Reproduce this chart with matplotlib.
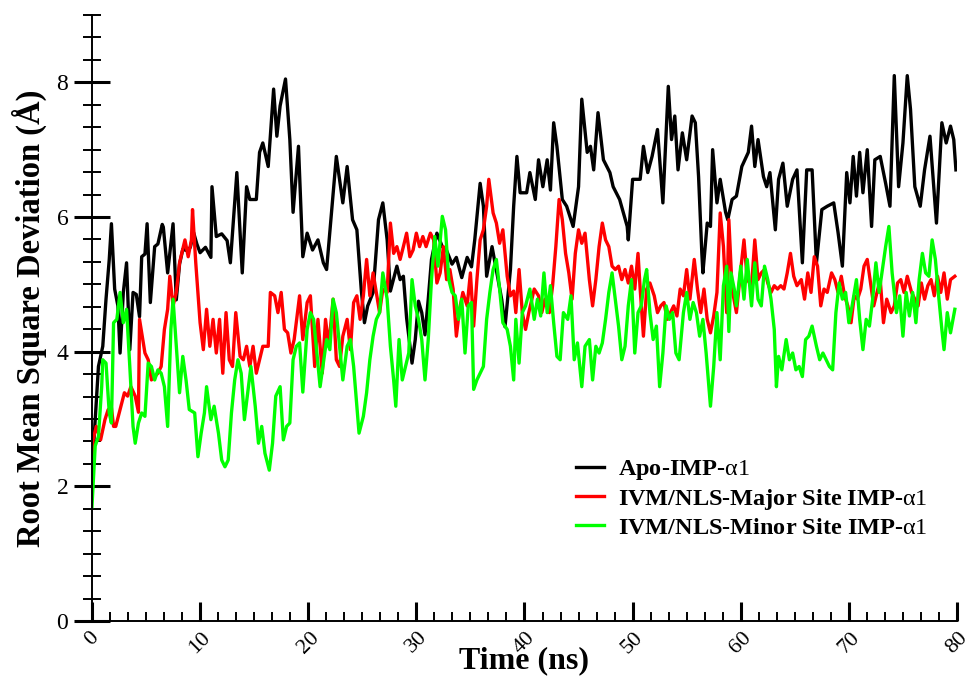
import matplotlib
matplotlib.use("Agg")
import matplotlib.pyplot as plt
from matplotlib.ticker import MultipleLocator, AutoMinorLocator

plt.rcParams['font.family'] = ['Liberation Serif', 'DejaVu Serif']
plt.rcParams['mathtext.fontset'] = 'custom'
plt.rcParams['mathtext.rm'] = 'Liberation Serif'
plt.rcParams['mathtext.it'] = 'Liberation Serif:italic'

# Apo-IMP-alpha1 (black)
apo_t = [0, 0.3, 0.6, 1.0, 1.3, 1.6, 1.8, 2.1, 2.4, 2.6, 2.9, 3.2, 3.5, 3.8, 4.1, 4.4, 4.6, 4.9, 5.1, 5.4,
         5.8, 6.1, 6.5, 6.6, 7.0, 7.5, 7.8, 8.1, 8.4, 8.8, 9.1, 9.4, 9.7, 10.0, 10.5, 11.0, 11.1, 11.5, 12.0, 12.5,
         12.8, 13.4, 13.9, 14.3, 14.6, 15.2, 15.5, 15.8, 16.3, 16.8, 17.1, 17.4, 17.9, 18.3, 18.6, 19.1, 19.5, 19.9, 20.4, 20.9,
         21.4, 21.7, 22.2, 22.6, 23.2, 23.6, 24.1, 24.5, 24.9, 25.2, 25.5, 26.0, 26.5, 26.9, 27.3, 27.6, 28.2, 28.5, 28.8, 29.1,
         29.6, 29.9, 30.2, 30.5, 30.8, 31.1, 31.4, 31.9, 32.4, 32.8, 33.3, 33.7, 34.2, 34.7, 35.1, 35.4, 35.9, 36.2, 36.5, 37.0,
         37.5, 37.9, 38.2, 38.7, 39.0, 39.3, 39.6, 40.2, 40.5, 41.0, 41.3, 41.7, 42.1, 42.4, 42.7, 43.0, 43.5, 43.9, 44.5, 45.0,
         45.3, 45.8, 46.1, 46.4, 46.8, 47.3, 47.9, 48.2, 48.8, 49.5, 49.6, 50.0, 50.7, 51.0, 51.4, 51.8, 52.3, 52.8, 53.3, 53.6,
         53.9, 54.2, 54.6, 55.0, 55.5, 55.8, 56.1, 56.4, 56.5, 56.9, 57.2, 57.4, 57.8, 58.1, 58.6, 58.8, 59.2, 59.6, 60.1, 60.7,
         61.0, 61.3, 61.6, 62.1, 62.4, 62.7, 63.2, 63.5, 63.9, 64.3, 64.8, 65.2, 65.7, 66.1, 66.6, 67.0, 67.5, 68.0, 68.6, 69.0,
         69.4, 69.8, 70.1, 70.4, 70.7, 71.0, 71.3, 71.7, 72.1, 72.4, 72.9, 73.4, 73.8, 74.2, 74.6, 75.0, 75.4, 75.7, 76.1, 76.6,
         77.0, 77.5, 78.1, 78.6, 79.0, 79.4, 79.7, 79.9]
apo_v = [2.2, 2.99, 3.78, 4.08, 4.78, 5.37, 5.9, 4.93, 4.68, 3.98, 4.88, 5.32, 4.03, 4.88, 4.85, 4.52, 5.41, 5.45, 5.9, 4.73,
         5.56, 5.6, 5.89, 5.85, 5.17, 5.9, 4.77, 5.3, 5.52, 5.5, 5.55, 5.77, 5.6, 5.47, 5.55, 5.4, 6.45, 5.71, 5.75, 5.65,
         5.32, 6.66, 5.17, 6.45, 6.26, 6.26, 6.96, 7.1, 6.75, 7.9, 7.2, 7.65, 8.05, 7.15, 6.07, 7.05, 5.41, 5.76, 5.51, 5.66,
         5.32, 5.22, 6.16, 6.9, 6.21, 6.75, 5.96, 5.81, 4.93, 4.43, 4.68, 4.88, 5.96, 6.21, 5.66, 4.9, 5.27, 5.07, 5.12, 4.5,
         3.83, 4.18, 4.75, 4.58, 4.25, 4.78, 5.37, 5.76, 5.56, 5.5, 5.3, 5.4, 5.1, 5.4, 5.26, 5.66, 6.5, 6.16, 5.12, 5.56,
         5.12, 4.77, 4.37, 5.22, 6.16, 6.9, 6.36, 6.36, 6.66, 6.26, 6.85, 6.45, 6.85, 6.4, 7.4, 7.05, 6.26, 6.16, 5.86, 6.45,
         7.75, 6.96, 7.05, 6.7, 7.55, 6.85, 6.66, 6.45, 6.26, 5.86, 5.66, 6.56, 6.56, 7.05, 6.66, 6.9, 7.3, 6.21, 7.94, 7.15,
         7.5, 6.7, 7.25, 6.85, 7.5, 7.4, 6.6, 5.47, 5.17, 5.91, 5.86, 7.0, 6.21, 6.56, 6.07, 5.96, 6.26, 6.31, 6.75, 6.96,
         7.35, 6.75, 7.15, 6.6, 6.45, 6.66, 5.81, 6.56, 6.8, 6.16, 6.56, 6.7, 5.32, 6.7, 6.7, 5.32, 6.11, 6.16, 6.21, 5.77,
         5.27, 6.66, 6.21, 6.9, 6.31, 6.96, 6.36, 7.0, 5.86, 6.85, 6.9, 6.5, 6.16, 8.1, 6.45, 7.1, 8.1, 7.6, 6.45, 6.16,
         6.7, 7.2, 5.91, 7.4, 7.1, 7.35, 7.15, 6.7]

# IVM/NLS-Major Site IMP-alpha1 (red)
major_t = [0.0, 0.1, 0.4, 0.8, 1.2, 1.5, 1.8, 2.0, 2.2, 2.6, 3.0, 3.3, 3.6, 4.0, 4.3, 4.4, 4.9, 5.2, 5.5, 5.8,
           6.1, 6.4, 6.7, 7.0, 7.2, 7.5, 7.8, 8.1, 8.6, 8.9, 9.2, 9.3, 9.6, 10.0, 10.3, 10.6, 10.9, 11.2, 11.5, 11.8,
           12.1, 12.4, 12.7, 13.0, 13.3, 13.7, 14.0, 14.3, 14.6, 14.9, 15.2, 15.5, 15.8, 16.3, 16.5, 16.9, 17.2, 17.5, 17.8, 18.1,
           18.4, 18.7, 19.2, 19.5, 19.9, 20.2, 20.6, 20.9, 21.3, 21.6, 21.9, 22.3, 22.6, 22.9, 23.2, 23.6, 23.9, 24.2, 24.5, 24.8,
           25.1, 25.4, 25.7, 26.0, 26.3, 26.6, 26.9, 27.3, 27.6, 27.9, 28.2, 28.5, 28.8, 29.1, 29.4, 29.7, 30.0, 30.3, 30.6, 30.9,
           31.3, 31.6, 31.9, 32.2, 32.5, 32.8, 33.1, 33.4, 33.7, 34.0, 34.3, 34.7, 35.0, 35.3, 35.6, 35.9, 36.2, 36.5, 36.7, 37.1,
           37.4, 37.7, 38.0, 38.4, 38.7, 39.0, 39.2, 39.5, 39.8, 40.1, 40.4, 40.9, 41.3, 41.6, 41.9, 42.3, 42.6, 42.9, 43.2, 43.5,
           43.8, 44.1, 44.4, 44.7, 45.0, 45.3, 45.6, 46.0, 46.3, 46.6, 46.9, 47.2, 47.5, 47.8, 48.1, 48.4, 48.7, 49.0, 49.3, 49.6,
           49.9, 50.2, 50.5, 50.7, 51.0, 51.3, 51.6, 52.0, 52.3, 52.6, 52.9, 53.2, 53.5, 53.8, 54.1, 54.4, 54.7, 55.0, 55.3, 55.7,
           56.0, 56.3, 56.6, 56.9, 57.2, 57.5, 57.8, 58.1, 58.4, 58.7, 58.9, 59.2, 59.6, 60.0, 60.3, 60.6, 61.0, 61.3, 61.6, 61.9,
           62.2, 62.5, 62.8, 63.1, 63.4, 63.7, 64.0, 64.3, 64.6, 64.9, 65.2, 65.6, 65.9, 66.2, 66.5, 66.8, 67.1, 67.4, 67.7, 68.0,
           68.4, 68.7, 69.0, 69.3, 69.6, 69.9, 70.2, 70.5, 70.8, 71.1, 71.4, 71.7, 72.0, 72.3, 72.6, 72.9, 73.2, 73.5, 73.9, 74.2,
           74.5, 74.8, 75.1, 75.4, 75.8, 76.1, 76.4, 76.7, 77.0, 77.3, 77.6, 77.9, 78.2, 78.5, 78.8, 79.1, 79.4, 79.8]
major_v = [2.3, 2.69, 2.89, 2.69, 2.99, 3.14, 3.17, 2.89, 2.89, 3.14, 3.39, 3.34, 3.48, 3.34, 3.1, 4.48, 3.98, 3.88, 3.58, 3.63,
           3.68, 3.78, 4.33, 4.63, 5.12, 4.68, 4.88, 5.32, 5.66, 5.41, 5.66, 6.11, 5.32, 4.43, 4.03, 4.63, 4.08, 4.48, 3.98, 4.48,
           3.68, 4.58, 3.88, 3.78, 4.58, 3.93, 3.88, 4.08, 3.78, 4.08, 3.68, 3.88, 4.08, 4.08, 4.88, 4.83, 4.58, 4.88, 4.33, 4.28,
           3.98, 4.18, 4.83, 4.18, 4.73, 4.83, 3.78, 4.48, 3.68, 4.48, 4.08, 4.78, 3.88, 3.78, 4.23, 4.48, 4.03, 4.73, 4.83, 4.48,
           4.83, 5.37, 4.83, 5.17, 4.88, 4.58, 4.93, 4.88, 5.91, 5.46, 5.56, 5.37, 5.56, 5.76, 5.41, 5.51, 5.76, 5.56, 5.71, 5.56,
           5.76, 5.66, 5.02, 5.17, 5.56, 5.07, 5.22, 4.93, 4.23, 4.63, 4.88, 4.68, 5.17, 4.38, 5.07, 5.66, 5.81, 6.16, 6.56, 6.06,
           5.91, 5.61, 5.81, 5.12, 4.83, 4.9, 4.58, 5.22, 4.58, 4.33, 4.58, 4.93, 4.83, 4.58, 4.78, 4.58, 4.98, 5.56, 6.26, 5.96,
           5.46, 5.17, 4.78, 5.46, 5.81, 5.61, 5.76, 5.07, 4.68, 5.07, 5.56, 5.91, 5.66, 5.56, 5.27, 5.22, 5.27, 5.07, 5.22, 5.02,
           5.27, 4.93, 5.46, 4.93, 4.23, 4.93, 5.02, 4.83, 4.58, 4.68, 4.73, 4.48, 4.58, 4.68, 4.53, 4.93, 4.83, 5.22, 4.78, 5.37,
           4.93, 4.58, 4.93, 4.48, 4.28, 4.53, 4.88, 6.06, 5.56, 4.58, 5.96, 4.93, 4.58, 5.22, 5.66, 5.07, 4.98, 5.66, 5.07, 5.17,
           5.22, 5.02, 4.88, 4.98, 4.93, 4.98, 4.93, 5.17, 5.46, 5.12, 4.98, 5.07, 4.78, 5.17, 4.88, 5.41, 5.27, 4.68, 4.93, 4.88,
           5.17, 5.07, 4.88, 5.12, 4.83, 4.68, 4.43, 4.83, 4.78, 4.93, 5.27, 5.37, 5.02, 4.68, 4.88, 5.07, 4.43, 4.78, 4.58, 4.68,
           5.02, 5.07, 4.88, 5.12, 4.88, 4.78, 4.68, 5.02, 4.78, 4.98, 5.07, 4.83, 5.12, 4.88, 5.17, 4.78, 5.07, 5.12]

# IVM/NLS-Minor Site IMP-alpha1 (green)
minor_t = [0.0, 0.3, 0.6, 0.9, 1.0, 1.3, 1.6, 1.8, 2.0, 2.3, 2.6, 2.9, 3.2, 3.5, 3.8, 4.0, 4.3, 4.6, 4.9, 5.2,
           5.5, 5.8, 6.1, 6.4, 6.7, 7.0, 7.3, 7.5, 7.8, 8.1, 8.4, 8.7, 9.0, 9.5, 9.8, 10.1, 10.4, 10.6, 11.0, 11.3,
           11.7, 12.0, 12.3, 12.6, 12.9, 13.2, 13.5, 13.8, 14.1, 14.4, 14.7, 15.1, 15.4, 15.7, 16.0, 16.4, 16.7, 17.0, 17.4, 17.7,
           18.0, 18.3, 18.6, 18.9, 19.2, 19.5, 19.9, 20.2, 20.5, 20.8, 21.1, 21.4, 21.7, 22.0, 22.3, 22.6, 22.9, 23.2, 23.6, 23.9,
           24.2, 24.5, 24.7, 25.1, 25.4, 25.7, 26.0, 26.3, 26.6, 26.9, 27.3, 27.6, 27.9, 28.1, 28.4, 28.7, 29.0, 29.3, 29.6, 29.9,
           30.2, 30.5, 30.8, 31.1, 31.4, 31.7, 32.0, 32.4, 32.7, 33.0, 33.3, 33.6, 33.9, 34.2, 34.5, 34.8, 35.1, 35.3, 35.6, 35.9,
           36.2, 36.5, 36.8, 37.1, 37.4, 37.7, 38.0, 38.4, 38.7, 39.0, 39.2, 39.5, 39.8, 40.1, 40.5, 40.9, 41.2, 41.5, 41.8, 42.1,
           42.4, 42.7, 43.0, 43.3, 43.6, 44.0, 44.3, 44.6, 44.9, 45.2, 45.3, 45.6, 46.0, 46.3, 46.6, 46.9, 47.2, 47.5, 47.8, 48.1,
           48.4, 48.7, 49.0, 49.3, 49.6, 49.9, 50.2, 50.5, 50.8, 51.1, 51.3, 51.6, 51.9, 52.2, 52.5, 52.8, 53.1, 53.4, 53.7, 54.0,
           54.3, 54.7, 55.0, 55.3, 55.6, 55.9, 56.2, 56.5, 56.8, 57.0, 57.2, 57.5, 57.8, 58.1, 58.4, 58.7, 58.9, 59.1, 59.4, 59.6,
           60.0, 60.3, 60.6, 61.0, 61.3, 61.6, 61.9, 62.2, 62.5, 62.8, 63.1, 63.3, 63.5, 63.8, 64.2, 64.5, 64.8, 65.1, 65.4, 65.7,
           66.0, 66.3, 66.6, 67.0, 67.3, 67.6, 67.9, 68.2, 68.5, 68.8, 69.1, 69.4, 69.7, 70.0, 70.3, 70.7, 71.0, 71.3, 71.6, 71.9,
           72.2, 72.5, 72.8, 73.1, 73.4, 73.7, 74.0, 74.4, 74.7, 75.0, 75.3, 75.6, 75.9, 76.2, 76.5, 76.8, 77.1, 77.4, 77.7, 78.0,
           78.3, 78.6, 78.8, 79.1, 79.4, 79.8]
minor_v = [1.7, 2.6, 2.74, 3.48, 3.88, 3.83, 3.09, 2.94, 4.43, 4.48, 4.88, 4.43, 4.63, 3.78, 2.89, 2.64, 2.94, 3.09, 3.04, 3.83,
           3.78, 3.58, 3.73, 3.68, 3.48, 2.89, 4.33, 4.78, 4.08, 3.39, 3.93, 3.58, 3.14, 3.09, 2.44, 2.79, 3.09, 3.48, 2.99, 3.19,
           2.79, 2.39, 2.29, 2.39, 3.09, 3.58, 3.88, 3.68, 2.99, 3.39, 3.78, 3.19, 2.64, 2.89, 2.49, 2.24, 2.64, 3.34, 3.48, 2.69,
           2.89, 2.94, 3.88, 4.08, 4.13, 3.4, 4.33, 4.58, 4.48, 3.98, 3.48, 3.83, 4.18, 4.03, 4.78, 4.58, 4.08, 3.58, 4.08, 4.18,
           3.78, 3.19, 2.79, 3.04, 3.39, 3.88, 4.23, 4.48, 4.58, 5.17, 4.78, 4.08, 3.58, 3.19, 4.18, 3.58, 3.78, 3.98, 5.07, 4.68,
           4.48, 4.18, 3.58, 4.18, 5.07, 5.71, 5.27, 6.01, 5.81, 5.07, 4.88, 4.83, 4.48, 4.78, 3.98, 4.68, 4.73, 3.44, 3.58, 3.68,
           3.78, 4.48, 4.88, 5.22, 5.37, 4.93, 4.43, 4.33, 4.08, 3.58, 4.48, 3.83, 4.58, 4.68, 4.93, 4.48, 4.78, 4.53, 5.17, 4.58,
           4.98, 4.43, 3.93, 3.88, 4.58, 4.48, 4.83, 3.88, 4.13, 3.63, 3.48, 4.08, 4.18, 3.58, 4.08, 3.98, 4.13, 4.48, 4.88, 5.17,
           4.78, 4.38, 3.88, 4.08, 4.68, 5.07, 3.98, 4.58, 4.68, 5.07, 5.22, 4.58, 4.18, 4.38, 3.48, 3.98, 4.68, 4.48, 4.58, 3.98,
           3.88, 4.58, 4.88, 4.48, 4.73, 4.58, 4.23, 4.48, 3.98, 3.58, 3.19, 3.78, 4.58, 3.88, 4.98, 5.27, 4.3, 5.17, 4.93, 4.68,
           5.27, 4.78, 5.37, 4.68, 5.32, 4.78, 4.68, 5.27, 5.07, 4.78, 4.33, 3.48, 3.93, 3.73, 4.18, 3.88, 3.98, 3.73, 3.78, 3.63,
           4.18, 4.23, 4.38, 4.08, 3.88, 3.98, 3.88, 3.78, 3.73, 4.58, 5.02, 4.78, 4.88, 4.43, 4.68, 5.07, 4.48, 4.03, 4.48, 4.38,
           4.78, 5.32, 4.88, 5.22, 5.56, 5.86, 5.17, 4.58, 4.83, 4.23, 4.88, 4.53, 4.88, 4.43, 5.07, 5.46, 5.17, 5.12, 5.66, 5.37,
           4.83, 4.33, 4.03, 4.58, 4.28, 4.63]

labels = ['Apo-IMP-$\\mathrm{\\alpha1}$',
          'IVM/NLS-Major Site IMP-$\\mathrm{\\alpha1}$',
          'IVM/NLS-Minor Site IMP-$\\mathrm{\\alpha1}$']

fig = plt.figure(figsize=(9.7, 6.89), dpi=100)
ax = fig.add_axes([0.0948, 0.0987, 0.8918, 0.8795])

ax.plot(apo_t, apo_v, color='black', lw=2.4, label=labels[0])
ax.plot(major_t, major_v, color='#ff0000', lw=2.4, label=labels[1])
ax.plot(minor_t, minor_v, color='#00ff00', lw=2.4, label=labels[2])

ax.set_xlim(0, 80)
ax.set_ylim(0, 9)
ax.spines['top'].set_visible(False)
ax.spines['right'].set_visible(False)
ax.spines['left'].set_linewidth(1.4)
ax.spines['bottom'].set_linewidth(1.4)

ax.xaxis.set_major_locator(MultipleLocator(10))
ax.xaxis.set_minor_locator(AutoMinorLocator(6))
ax.yaxis.set_major_locator(MultipleLocator(2))
ax.yaxis.set_minor_locator(AutoMinorLocator(6))

ax.tick_params(axis='y', which='major', direction='inout', length=26, width=2.2, labelsize=17, pad=4)
ax.tick_params(axis='y', which='minor', direction='inout', length=13, width=1.4)
ax.tick_params(axis='x', which='major', direction='in', length=13.5, width=2.2, labelsize=16, pad=5)
ax.tick_params(axis='x', which='minor', direction='in', length=6.5, width=1.4)
for lab in ax.get_xticklabels():
    lab.set_rotation(45)
    lab.set_ha('center')

ax.set_xlabel('Time (ns)', fontsize=23, fontweight='bold', labelpad=-8)
ax.set_ylabel('Root Mean Square Deviation (Å)', fontsize=23.5, fontweight='bold', labelpad=7)

leg = ax.legend(loc='upper left', bbox_to_anchor=(0.534, 0.305), frameon=False,
                prop={'weight': 'bold', 'size': 17.5}, handlelength=1.15,
                handletextpad=0.6, labelspacing=0.2)

fig.savefig('out.png', dpi=100)
